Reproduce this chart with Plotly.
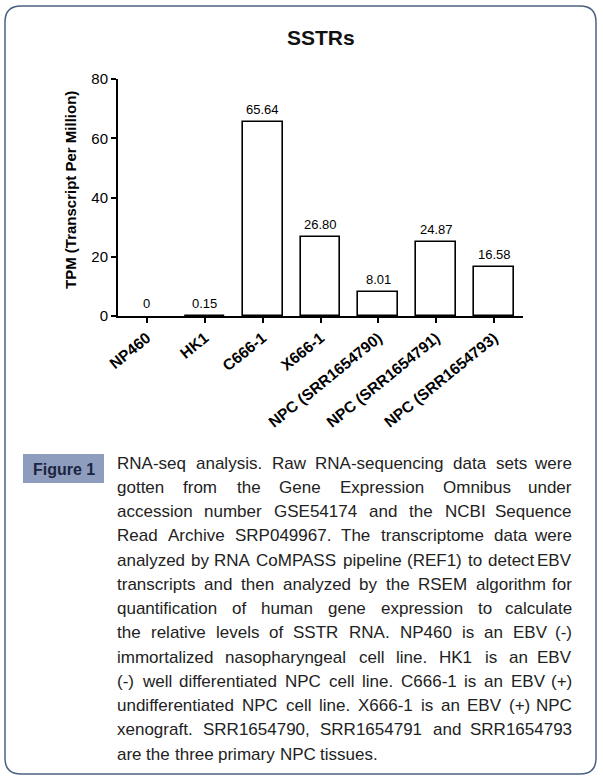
import plotly.graph_objects as go

# ---------------- data ----------------
categories = ["NP460", "HK1", "C666-1", "X666-1",
              "NPC (SRR1654790)", "NPC (SRR1654791)", "NPC (SRR1654793)"]
values = [0, 0.15, 65.64, 26.80, 8.01, 24.87, 16.58]
value_labels = ["0", "0.15", "65.64", "26.80", "8.01", "24.87", "16.58"]
y_tick_values = [0, 20, 40, 60, 80]
chart_title = "SSTRs"
y_title = "TPM (Transcript Per Million)"
figure_label = "Figure 1"
caption_lines = [
    "RNA-seq analysis. Raw RNA-sequencing data sets were",
    "gotten from the Gene Expression Omnibus under",
    "accession number GSE54174 and the NCBI Sequence",
    "Read Archive SRP049967. The transcriptome data were",
    "analyzed by RNA CoMPASS pipeline (REF1) to detect EBV",
    "transcripts and then analyzed by the RSEM algorithm for",
    "quantification of human gene expression to calculate",
    "the relative levels of SSTR RNA. NP460 is an EBV (-)",
    "immortalized nasopharyngeal cell line. HK1 is an EBV",
    "(-) well differentiated NPC cell line. C666-1 is an EBV (+)",
    "undifferentiated NPC cell line. X666-1 is an EBV (+) NPC",
    "xenograft. SRR1654790, SRR1654791 and SRR1654793",
    "are the three primary NPC tissues.",
]

# ---------------- layout helpers ----------------
W, H = 603, 781


def px(x):
    return x / W


def py(y):
    return 1 - y / H


# Arial / Liberation Sans advance widths (per 1000 em)
_groups = [
    ("ijl", 222), ("ft .,I", 278), ("r()-", 333), ("cksvxyzJ", 500),
    ("abdeghnopqu0123456789L", 556), ("+", 584), ("FTZ", 611),
    ("ABEKPSVXY", 667), ("wCDHNRU", 722), ("GOQ", 778), ("mM", 833), ("W", 944),
]
CHAR_W = {c: w for chars, w in _groups for c in chars}


def text_width(s, size):
    return sum(CHAR_W.get(c, 556) for c in s) * size / 1000.0


FONT = "Liberation Sans, Arial, sans-serif"

fig = go.Figure()
fig.add_trace(go.Bar(
    x=categories, y=values, width=0.69,
    marker=dict(color="white",
                line=dict(color="black", width=[1.6 if v > 0 else 0 for v in values])),
    hoverinfo="skip",
))

annotations = []
# value labels above bars
for c, v, lab in zip(categories, values, value_labels):
    annotations.append(dict(
        x=c, y=v, xref="x", yref="y", text=lab, showarrow=False,
        yanchor="bottom", yshift=3, font=dict(family=FONT, size=13, color="black"),
    ))

# chart title
annotations.append(dict(
    x=px(320.5), y=py(37), xref="paper", yref="paper", text=chart_title,
    showarrow=False, xanchor="center", yanchor="middle",
    font=dict(family=FONT, size=21, color="#111111", weight="bold"),
))
# y axis title
annotations.append(dict(
    x=px(70), y=py(190), xref="paper", yref="paper", text=y_title,
    showarrow=False, textangle=-90, xanchor="center", yanchor="middle",
    font=dict(family=FONT, size=15, color="black", weight="bold"),
))
# Figure label
annotations.append(dict(
    x=px(63.5), y=py(469), xref="paper", yref="paper", text=figure_label,
    showarrow=False, xanchor="center", yanchor="middle",
    font=dict(family=FONT, size=16, color="#1b2540", weight="bold"),
))

# justified caption
cap_size = 17
left_x, right_x = 116, 573
line0, line_step = 463, 24.25
for i, line in enumerate(caption_lines):
    yc = line0 + i * line_step
    words = line.split(" ")
    last = (i == len(caption_lines) - 1)
    widths = [text_width(w, cap_size) for w in words]
    if last or len(words) == 1:
        gap = text_width(" ", cap_size)
    else:
        gap = (right_x - left_x - sum(widths)) / (len(words) - 1)
        gap = max(gap, 0.2 * cap_size)
    x = left_x
    for j, (w, ww) in enumerate(zip(words, widths)):
        if (not last) and j == len(words) - 1 and len(words) > 1:
            annotations.append(dict(
                x=px(right_x), y=py(yc), xref="paper", yref="paper", text=w,
                showarrow=False, xanchor="right", yanchor="middle", borderpad=0,
                font=dict(family=FONT, size=cap_size, color="#222222"),
            ))
        else:
            annotations.append(dict(
                x=px(x), y=py(yc), xref="paper", yref="paper", text=w,
                showarrow=False, xanchor="left", yanchor="middle", borderpad=0,
                font=dict(family=FONT, size=cap_size, color="#222222"),
            ))
        x += ww + gap

# rounded border
x0, x1 = px(5), px(596)
y0, y1 = py(774), py(6)
rx, ry = 16 / W, 16 / H
border_path = (
    f"M {x0+rx},{y1} L {x1-rx},{y1} Q {x1},{y1} {x1},{y1-ry} "
    f"L {x1},{y0+ry} Q {x1},{y0} {x1-rx},{y0} "
    f"L {x0+rx},{y0} Q {x0},{y0} {x0},{y0+ry} "
    f"L {x0},{y1-ry} Q {x0},{y1} {x0+rx},{y1} Z"
)
shapes = [
    dict(type="path", xref="paper", yref="paper", path=border_path,
         line=dict(color="#4b6182", width=1.5), fillcolor="rgba(0,0,0,0)", layer="below"),
    dict(type="rect", xref="paper", yref="paper",
         x0=px(23), x1=px(104), y0=py(483), y1=py(454),
         fillcolor="#8e9cbe", line=dict(width=0), layer="below"),
]

fig.update_layout(
    width=W, height=H, autosize=False,
    margin=dict(l=0, r=0, t=0, b=0),
    paper_bgcolor="white", plot_bgcolor="white",
    showlegend=False,
    bargap=0,
    annotations=annotations, shapes=shapes,
    xaxis=dict(
        domain=[px(118), px(523)], range=[-0.5, 6.5], automargin=False,
        showline=True, linecolor="black", linewidth=2,
        ticks="outside", ticklen=5, tickwidth=2, tickcolor="black",
        tickangle=-39, showgrid=False, zeroline=False,
        tickfont=dict(family=FONT, size=15.5, color="black", weight="bold"),
    ),
    yaxis=dict(
        domain=[py(316), py(79)], range=[0, 80], automargin=False,
        tickvals=y_tick_values, showline=True, linecolor="black", linewidth=2,
        ticks="outside", ticklen=5, tickwidth=2, tickcolor="black",
        showgrid=False, zeroline=False,
        tickfont=dict(family=FONT, size=15, color="black"),
    ),
)

fig.write_html(
    "out.html",
    config={"displayModeBar": False},
    post_script="document.body.style.margin='0';document.body.style.overflow='hidden';",
)
